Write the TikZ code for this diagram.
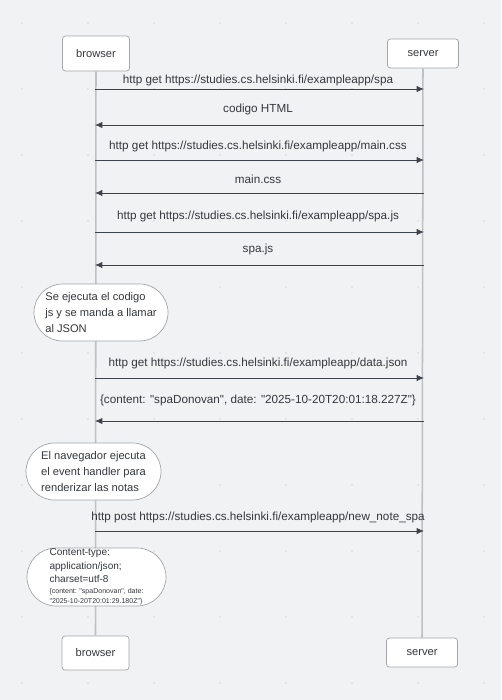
\documentclass[tikz,border=0pt]{standalone}
\usepackage{fontspec}
\setmainfont{Liberation Sans}[Ligatures=TeXOff]
\usepackage{xcolor}
\usetikzlibrary{shapes,arrows,arrows.meta,positioning}
\definecolor{canvas}{HTML}{F1F2F4}
\definecolor{ink}{HTML}{34373C}
\definecolor{arrowink}{HTML}{3E434B}
\definecolor{boxline}{HTML}{A3A5A8}
\definecolor{lifeink}{HTML}{BEC0C3}
\definecolor{dotink}{HTML}{B9BBBE}
\def\browserx{95}
\def\serverx{424}
\newcommand{\tinytext}{\fontsize{6}{7.7}\selectfont}

\begin{document}
\begin{tikzpicture}[x=0.03cm,y=-0.03cm,text=ink,font=\fontsize{10}{12}\selectfont]
    \tikzstyle{actor}=[draw=boxline,fill=white,rounded corners=2.5pt,line width=0.6pt,inner sep=0pt,font=\fontsize{9.5}{12}\selectfont]
    \tikzstyle{lifeline}=[draw=lifeink,line width=1.3pt]
    \tikzstyle{msg}=[draw=arrowink,line width=0.8pt,-{Latex[length=2.2mm,width=1.9mm]}]
    \tikzstyle{lbl}=[inner sep=0pt]
    \tikzstyle{note}=[draw=boxline,fill=white,rounded rectangle,line width=0.6pt,align=left,inner sep=0pt,font=\fontsize{9.5}{13.5}\selectfont]

    \useasboundingbox[fill=canvas] (0,0) rectangle (501,700);

    % Grid dots of the canvas
    \foreach \gx in {0,...,7}
        \foreach \gy in {0,...,10}
            \fill[dotink] (22+66*\gx,23+66*\gy) circle (0.6pt);

    % Draw the participants
    \node[actor,minimum width=2.01cm,minimum height=1.05cm] (B-top) at (96,53.5) {browser};
    \node[actor,minimum width=2.13cm,minimum height=0.87cm] (S-top) at (423,53.5) {server};
    \node[actor,minimum width=2.01cm,minimum height=1.02cm] (B-bot) at (95.5,653) {browser};
    \node[actor,minimum width=2.13cm,minimum height=0.87cm] (S-bot) at (422,652.5) {server};

    % Lifelines
    \path[lifeline] (B-top.south) -- (B-bot.north);
    \path[lifeline] (S-top.south) -- (S-bot.north);

    % Requests from the browser to the server
    \foreach \n/\y/\ly/\txt in {1/89/80/{http get https://studies.cs.helsinki.fi/exampleapp/spa},
                                3/160/146/{http get https://studies.cs.helsinki.fi/exampleapp/main.css},
                                5/232/216/{http get https://studies.cs.helsinki.fi/exampleapp/spa.js},
                                7/378/363/{http get https://studies.cs.helsinki.fi/exampleapp/data.json},
                                9/531/517/{http post https://studies.cs.helsinki.fi/exampleapp/new\_note\_spa}}
    {
        \coordinate (b\n) at (\browserx,\y);
        \coordinate (s\n) at (\serverx,\y);
        \path[msg] (b\n) -- (s\n);
        \node[lbl] (L-\n) at (258,\ly) {\txt};
    }

    % Responses from the server to the browser
    \foreach \n/\y/\ly/\txt in {2/125/109/{codigo HTML},
                                4/193/179/{main.css},
                                6/265/249/{spa.js},
                                8/421/400/{\{content: "spaDonovan", date: "2025-10-20T20:01:18.227Z"\}}}
    {
        \coordinate (b\n) at (\browserx,\y);
        \coordinate (s\n) at (\serverx,\y);
        \path[msg] (s\n) -- (b\n);
        \node[lbl] (L-\n) at (258,\ly) {\txt};
    }

    % Notes on the browser lifeline
    \node[note,minimum width=4.02cm,minimum height=1.71cm] (N-1) at (101,312.5)
        {Se ejecuta el codigo\\js y se manda a llamar\\al JSON};
    \node[note,minimum width=4.05cm,minimum height=1.71cm,font=\fontsize{9.5}{14}\selectfont] (N-2) at (93.5,471.5)
        {El navegador ejecuta\\el event handler para\\renderizar las notas};
    \node[note,minimum width=4.05cm,minimum height=1.74cm,font=\fontsize{8.6}{11.5}\selectfont] (N-3) at (96.5,577)
        {Content-type:\\application/json;\\charset=utf-8\\[-2pt]
         \tinytext \{content: "spaDonovan", date:\\[-3pt]\tinytext "2025-10-20T20:01:29.180Z"\}};

\end{tikzpicture}
\end{document}
